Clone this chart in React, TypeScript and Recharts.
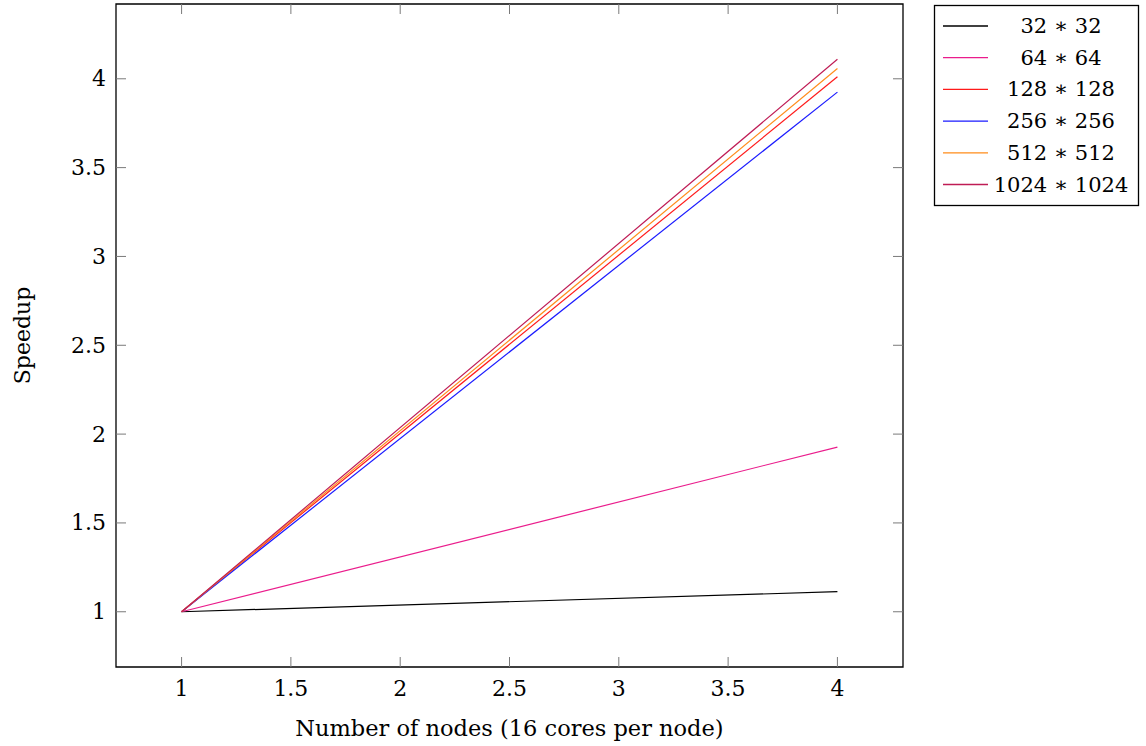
import { LineChart, Line, XAxis, YAxis, ReferenceArea } from 'recharts'

// speedup vs. node count, one series per grid size
const nodes = [1, 4]
const seriesNames = ['32 ∗ 32', '64 ∗ 64', '128 ∗ 128', '256 ∗ 256', '512 ∗ 512', '1024 ∗ 1024']
const seriesKeys = ['g32', 'g64', 'g128', 'g256', 'g512', 'g1024']
const seriesColors = ['#000000', '#ea1c8c', '#ff1a1a', '#1a1aff', '#ff8c1a', '#bf1c55']
const speedup32 = [1, 1.113]
const speedup64 = [1, 1.927]
const speedup128 = [1, 4.011]
const speedup256 = [1, 3.925]
const speedup512 = [1, 4.058]
const speedup1024 = [1, 4.11]
const xTicks = [1, 1.5, 2, 2.5, 3, 3.5, 4]
const yTicks = [1, 1.5, 2, 2.5, 3, 3.5, 4]

const allSeries = [speedup32, speedup64, speedup128, speedup256, speedup512, speedup1024]
const data = nodes.map((n, i) => {
  const row: Record<string, number> = { nodes: n }
  seriesKeys.forEach((k, s) => { row[k] = allSeries[s][i] })
  return row
})

const FONT = '"DejaVu Serif", serif'
const W = 1146
const H = 746
const MARGIN = { top: 4, right: 243, left: 56, bottom: 0 }
const PLOT_TOP = MARGIN.top
const PLOT_RIGHT = W - MARGIN.right
const TICK_LEN = 10
const TICK_COLOR = '#7a7a7a'
const X_DOMAIN = [0.7, 4.3]
const Y_DOMAIN = [0.689, 4.421]

// ticks point inward, mirrored on the top / right side of the box
const BottomTick = ({ x, y, payload }: any) => (
  <g>
    <line x1={x} x2={x} y1={y} y2={y - TICK_LEN} stroke={TICK_COLOR} />
    <line x1={x} x2={x} y1={PLOT_TOP} y2={PLOT_TOP + TICK_LEN} stroke={TICK_COLOR} />
    <text x={x} y={y + 21} textAnchor="middle" dominantBaseline="central" fontFamily={FONT} fontSize={22} fill="#000">
      {payload.value}
    </text>
  </g>
)
const LeftTick = ({ x, y, payload }: any) => (
  <g>
    <line x1={x} x2={x + TICK_LEN} y1={y} y2={y} stroke={TICK_COLOR} />
    <line x1={PLOT_RIGHT - TICK_LEN} x2={PLOT_RIGHT} y1={y} y2={y} stroke={TICK_COLOR} />
    <text x={x - 10} y={y} textAnchor="end" dominantBaseline="central" fontFamily={FONT} fontSize={22} fill="#000">
      {payload.value}
    </text>
  </g>
)

function LegendBox() {
  return (
    <svg width={208} height={204} style={{ position: 'absolute', left: 933, top: 4 }}>
      <rect x={1.5} y={1.5} width={204} height={200} fill="#fff" stroke="#000" strokeWidth={1.3} />
      {seriesNames.map((name, i) => {
        const cy = 22 + i * 31.7
        return (
          <g key={name}>
            <line x1={10} x2={55} y1={cy} y2={cy} stroke={seriesColors[i]} strokeWidth={1.3} />
            <text x={128} y={cy} textAnchor="middle" dominantBaseline="central" fontFamily={FONT} fontSize={21} fill="#000">
              {name}
            </text>
          </g>
        )
      })}
    </svg>
  )
}

export default function App() {
  return (
    <div style={{ position: 'absolute', left: 0, top: 0, width: W, height: H }}>
      <LineChart width={W} height={H} data={data} margin={MARGIN}>
        <XAxis
          dataKey="nodes" type="number" domain={X_DOMAIN} ticks={xTicks} allowDataOverflow
          height={79} tickSize={0} tickMargin={0} tickLine={false} tick={<BottomTick />}
          axisLine={false}
          label={{ value: 'Number of nodes (16 cores per node)', position: 'insideBottom', offset: 10, fontFamily: FONT, fontSize: 22.5, fill: '#000' }}
        />
        <YAxis
          type="number" domain={Y_DOMAIN} ticks={yTicks} allowDataOverflow
          width={60} tickSize={0} tickMargin={0} tickLine={false} tick={<LeftTick />}
          axisLine={false}
          label={{ value: 'Speedup', angle: -90, position: 'insideLeft', offset: -34, fontFamily: FONT, fontSize: 22, fill: '#000', style: { textAnchor: 'middle' } }}
        />
        {seriesKeys.map((k, i) => (
          <Line
            key={k} dataKey={k} name={seriesNames[i]} type="linear" stroke={seriesColors[i]}
            strokeWidth={1.2} dot={false} activeDot={false} isAnimationActive={false}
          />
        ))}
        <ReferenceArea
          x1={X_DOMAIN[0]} x2={X_DOMAIN[1]} y1={Y_DOMAIN[0]} y2={Y_DOMAIN[1]}
          fill="none" fillOpacity={0} stroke="#000" strokeWidth={1.3} ifOverflow="visible"
        />
      </LineChart>
      <LegendBox />
    </div>
  )
}
